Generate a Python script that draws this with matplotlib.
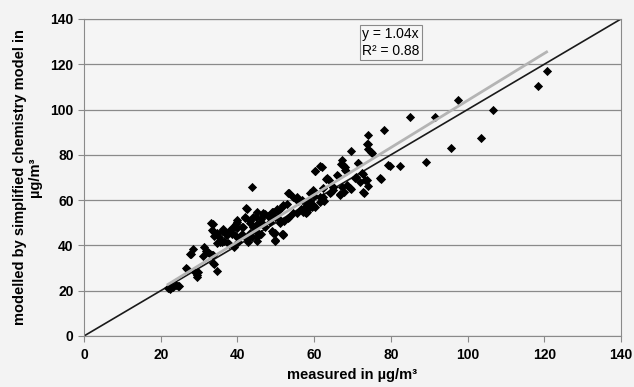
import matplotlib
matplotlib.use("Agg")
import matplotlib.pyplot as plt

plt.rcParams['font.family'] = ['Liberation Sans', 'DejaVu Sans']

# measured vs modelled concentrations (ug/m3)
measured = [
    120.6, 118.4, 106.6, 103.6, 97.6, 95.7, 91.6, 89.1, 84.9, 82.4, 79.9, 78.1,
    77.3, 74.0, 74.0, 74.0, 75.0, 69.6, 71.5, 67.3, 66.9, 68.0, 68.4, 60.3,
    62.0, 63.0, 63.8, 66.1, 72.8, 73.7, 70.9, 71.9, 74.0, 73.0, 69.6, 67.3,
    66.8, 67.7, 64.5, 65.0, 62.2, 62.5, 60.0, 59.0, 58.1, 59.5, 57.9, 56.7,
    55.8, 53.5, 54.4, 55.3, 53.0, 51.7, 50.7, 48.9, 50.3, 53.5, 52.1, 49.8,
    48.0, 47.1, 46.1, 44.8, 43.7, 42.5, 42.0, 43.4, 45.2, 47.1, 48.9, 49.8,
    51.9, 46.1, 44.8, 43.8, 42.5, 41.1, 41.1, 39.7, 38.8, 37.9, 38.6, 36.9,
    36.0, 35.1, 36.5, 37.9, 39.2, 40.2, 33.5, 33.5, 34.0, 31.4, 31.9, 32.8,
    28.5, 27.9, 34.0, 34.7, 31.0, 26.8, 29.6, 29.4, 24.8, 23.3, 22.4, 23.9,
    42.2, 53.2, 55.5, 56.8, 58.9, 60.2, 58.1, 51.9, 49.3, 46.7, 44.1, 42.0,
    39.9, 38.8, 39.4, 41.4, 43.3, 45.9, 48.5, 51.1, 53.2, 55.5, 57.6, 49.8,
    51.6, 45.1, 43.3, 73.8, 74.8, 67.5, 71.4, 61.5, 60.2, 68.0, 63.3, 66.0,
    72.5, 70.6, 73.3, 77.2, 72.7, 69.3, 64.9, 62.3, 59.7, 61.5, 64.1, 66.7,
    58.4, 61.5, 57.1, 58.9, 79.2, 33.1, 33.4, 34.7, 36.2, 39.9, 37.3, 35.5,
    37.5, 40.1, 44.1, 46.4, 48.5, 50.3, 51.1, 49.3, 49.8, 51.9, 45.1, 42.8,
    33.6, 33.6, 27.6, 26.6, 29.5, 28.9, 24.5, 22.4, 21.9, 59.7, 62.3, 64.9,
    68.6, 57.6, 54.5, 46.7, 45.1, 39.9, 34.7, 36.0, 33.4, 32.3,
]
modelled = [
    117.0, 110.3, 99.7, 87.4, 104.3, 83.0, 96.9, 76.7, 96.5, 74.9, 74.9, 91.1,
    69.4, 88.6, 84.9, 82.7, 80.9, 81.5, 76.5, 77.5, 76.1, 74.6, 72.8, 72.7,
    74.6, 69.4, 68.7, 70.6, 71.6, 68.7, 70.2, 67.9, 66.2, 63.1, 65.0, 65.7,
    62.8, 63.5, 63.5, 65.7, 61.3, 59.8, 62.0, 59.8, 58.3, 56.9, 54.4, 56.1,
    59.8, 63.1, 61.3, 60.6, 58.3, 56.9, 55.4, 54.7, 56.1, 52.4, 51.0, 52.4,
    53.2, 53.9, 51.7, 52.4, 65.7, 56.1, 52.4, 51.0, 49.5, 48.0, 46.5, 42.1,
    44.6, 45.1, 46.5, 43.6, 42.8, 45.1, 48.0, 49.5, 48.3, 46.5, 45.1, 45.1,
    46.5, 43.6, 42.1, 40.6, 39.1, 41.4, 49.5, 46.5, 44.3, 39.1, 37.7, 36.2,
    38.4, 36.2, 31.8, 28.8, 35.4, 29.5, 28.1, 26.1, 22.2, 21.7, 20.7, 22.6,
    56.5, 63.2, 61.4, 60.1, 63.2, 57.0, 54.8, 57.9, 54.8, 53.4, 52.6, 52.1,
    50.4, 47.7, 44.6, 48.1, 49.9, 49.9, 50.4, 51.2, 52.1, 54.3, 57.0, 45.5,
    45.1, 42.0, 45.5, 84.8, 81.3, 75.5, 76.4, 75.1, 72.9, 73.3, 69.8, 71.1,
    72.0, 69.8, 68.9, 69.8, 63.6, 65.4, 65.8, 65.4, 64.5, 61.4, 63.2, 62.3,
    58.7, 59.2, 54.8, 57.0, 75.5, 49.9, 46.8, 45.5, 47.3, 47.7, 44.6, 41.5,
    41.1, 43.3, 48.1, 49.9, 52.6, 55.7, 49.9, 45.5, 42.4, 45.1, 43.7, 41.5,
    32.2, 35.8, 36.2, 30.0, 26.9, 28.3, 22.1, 21.6, 21.2, 57.9, 60.1, 64.5,
    66.7, 54.8, 54.3, 54.3, 54.8, 51.2, 41.1, 41.5, 35.8, 37.1,
]

slope = 1.04
r2 = 0.88
fit_x = [min(measured), max(measured)]
ticks = [0, 20, 40, 60, 80, 100, 120, 140]

fig = plt.figure(figsize=(6.34, 3.87), dpi=100, facecolor='#f3f3f3')
ax = fig.add_axes([0.1325, 0.1318, 0.847, 0.8192])
ax.set_facecolor('#f5f5f5')

ax.plot([0, 140], [0, 140], color='#1a1a1a', lw=1.2, zorder=2)
ax.scatter(measured, modelled, marker='D', s=22, color='black', zorder=3, linewidths=0)
ax.plot(fit_x, [slope * v for v in fit_x], color='#b4b4b4', lw=2, zorder=4)

ax.set_xlim(0, 140)
ax.set_ylim(0, 140)
ax.set_xticks(ticks)
ax.set_yticks(ticks)
ax.yaxis.grid(True, color='#8a8a8a', lw=0.9)
ax.set_axisbelow(True)
for s in ax.spines.values():
    s.set_color('#8a8a8a')
ax.tick_params(colors='#8a8a8a', length=4, labelcolor='black', labelsize=10)
for lab in ax.get_xticklabels() + ax.get_yticklabels():
    lab.set_fontweight('bold')
ax.tick_params(axis='x', pad=5)

ax.set_xlabel('measured in µg/m³', fontsize=10.5, fontweight='bold', labelpad=4)
ax.set_ylabel('modelled by simplified chemistry model in\nµg/m³',
              fontsize=10.5, fontweight='bold', labelpad=6, linespacing=1.05)

ax.text(72.5, 136.3, 'y = 1.04x\nR² = %.2f' % r2, fontsize=10, va='top', ha='left',
        linespacing=1.2,
        bbox=dict(boxstyle='square,pad=0.15', facecolor='#f7f7f7', edgecolor='#8a8a8a', lw=0.8))

fig.savefig('out.png', dpi=100, facecolor=fig.get_facecolor())
